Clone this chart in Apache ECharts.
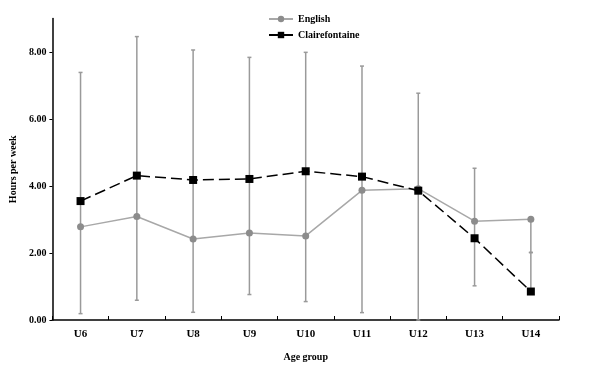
<!DOCTYPE html>
<html>
<head>
<meta charset="utf-8">
<script src="https://cdn.jsdelivr.net/npm/echarts@6/dist/echarts.min.js"></script>
<style>html,body{margin:0;padding:0;background:#fff;}#c{width:600px;height:368px;}</style>
</head>
<body>
<div id="c"></div>
<script>
var categories = ['U6','U7','U8','U9','U10','U11','U12','U13','U14'];
var english = [2.78, 3.09, 2.42, 2.60, 2.51, 3.87, 3.92, 2.95, 3.01];
var clairefontaine = [3.55, 4.31, 4.18, 4.21, 4.44, 4.28, 3.86, 2.44, 0.85];
// upper error (Clairefontaine mean + SD) and lower error (English mean - SD)
var clairefontaineUpper = [7.39, 8.46, 8.06, 7.84, 7.99, 7.58, 6.77, 4.53, 2.02];
var englishLower = [0.19, 0.59, 0.23, 0.76, 0.55, 0.22, 0.00, 1.02, 2.01];
var yTicks = [0, 2, 4, 6, 8];

var errData = categories.map(function (c, i) {
  return [i, englishLower[i], clairefontaineUpper[i], english[i], clairefontaine[i]];
});

var serif = '"Liberation Serif", "DejaVu Serif", serif';
var chart = echarts.init(document.getElementById('c'), null, {renderer: 'canvas'});
chart.setOption({
  animation: false,
  backgroundColor: '#fff',
  grid: {left: 51, right: 41, top: 18.5, bottom: 48},
  legend: {
    orient: 'vertical',
    left: 263, top: 9,
    itemWidth: 24, itemHeight: 8, itemGap: 6,
    textStyle: {fontFamily: serif, fontSize: 10, fontWeight: 'bold', color: '#000'},
    data: [
      {name: 'English'},
      {name: 'Clairefontaine', lineStyle: {type: 'solid'}}
    ]
  },
  xAxis: {
    type: 'category',
    data: categories,
    boundaryGap: true,
    name: 'Age group',
    nameLocation: 'middle',
    nameGap: 32,
    nameTextStyle: {fontFamily: serif, fontSize: 10, fontWeight: 'bold', color: '#000'},
    axisLine: {lineStyle: {color: '#000', width: 1.5}},
    axisTick: {show: true, inside: true, length: 4, lineStyle: {color: '#000'}},
    axisLabel: {fontFamily: serif, fontSize: 11, fontWeight: 'bold', color: '#000', margin: 9},
    splitLine: {show: false}
  },
  yAxis: {
    type: 'value',
    min: 0, max: 9, interval: 1,
    name: 'Hours per week',
    nameLocation: 'middle',
    nameGap: 33,
    nameTextStyle: {fontFamily: serif, fontSize: 10, fontWeight: 'bold', color: '#000'},
    axisLine: {show: true, lineStyle: {color: '#000', width: 1.5}},
    axisTick: {show: true, length: 3, lineStyle: {color: '#000'},
      customValues: yTicks},
    axisLabel: {fontFamily: serif, fontSize: 10, fontWeight: 'bold', color: '#000', margin: 6,
      customValues: yTicks,
      formatter: function (v) { return yTicks.indexOf(v) >= 0 ? v.toFixed(2) : ''; }},
    splitLine: {show: false}
  },
  series: [
    {
      type: 'custom',
      name: 'err',
      z: 1,
      silent: true,
      data: errData,
      encode: {x: 0, y: [1, 2]},
      renderItem: function (params, api) {
        var i = api.value(0);
        var lo = api.value(1), hi = api.value(2), e = api.value(3), c = api.value(4);
        var pLo = api.coord([i, lo]);
        var pHi = api.coord([i, hi]);
        var pE = api.coord([i, e]);
        var pC = api.coord([i, c]);
        var x = pLo[0];
        var topY = Math.min(pHi[1], pE[1], pC[1]);
        var botY = Math.max(pLo[1], pE[1], pC[1]);
        var st = {stroke: '#9a9a9a', lineWidth: 1.5};
        var cap = 2;
        return {
          type: 'group',
          children: [
            {type: 'line', shape: {x1: x, y1: topY, x2: x, y2: botY}, style: st},
            {type: 'line', shape: {x1: x - cap, y1: pHi[1], x2: x + cap, y2: pHi[1]}, style: st},
            {type: 'line', shape: {x1: x - cap, y1: pLo[1], x2: x + cap, y2: pLo[1]}, style: st}
          ]
        };
      }
    },
    {
      name: 'English',
      type: 'line',
      z: 3,
      data: english,
      symbol: 'circle',
      symbolSize: 7,
      itemStyle: {color: '#8c8c8c'},
      lineStyle: {color: '#a8a8a8', width: 1.5}
    },
    {
      name: 'Clairefontaine',
      type: 'line',
      z: 4,
      data: clairefontaine,
      symbol: 'rect',
      symbolSize: 8,
      itemStyle: {color: '#000'},
      lineStyle: {color: '#000', width: 1.5, type: [11, 5]}
    }
  ]
});
</script>
</body>
</html>
